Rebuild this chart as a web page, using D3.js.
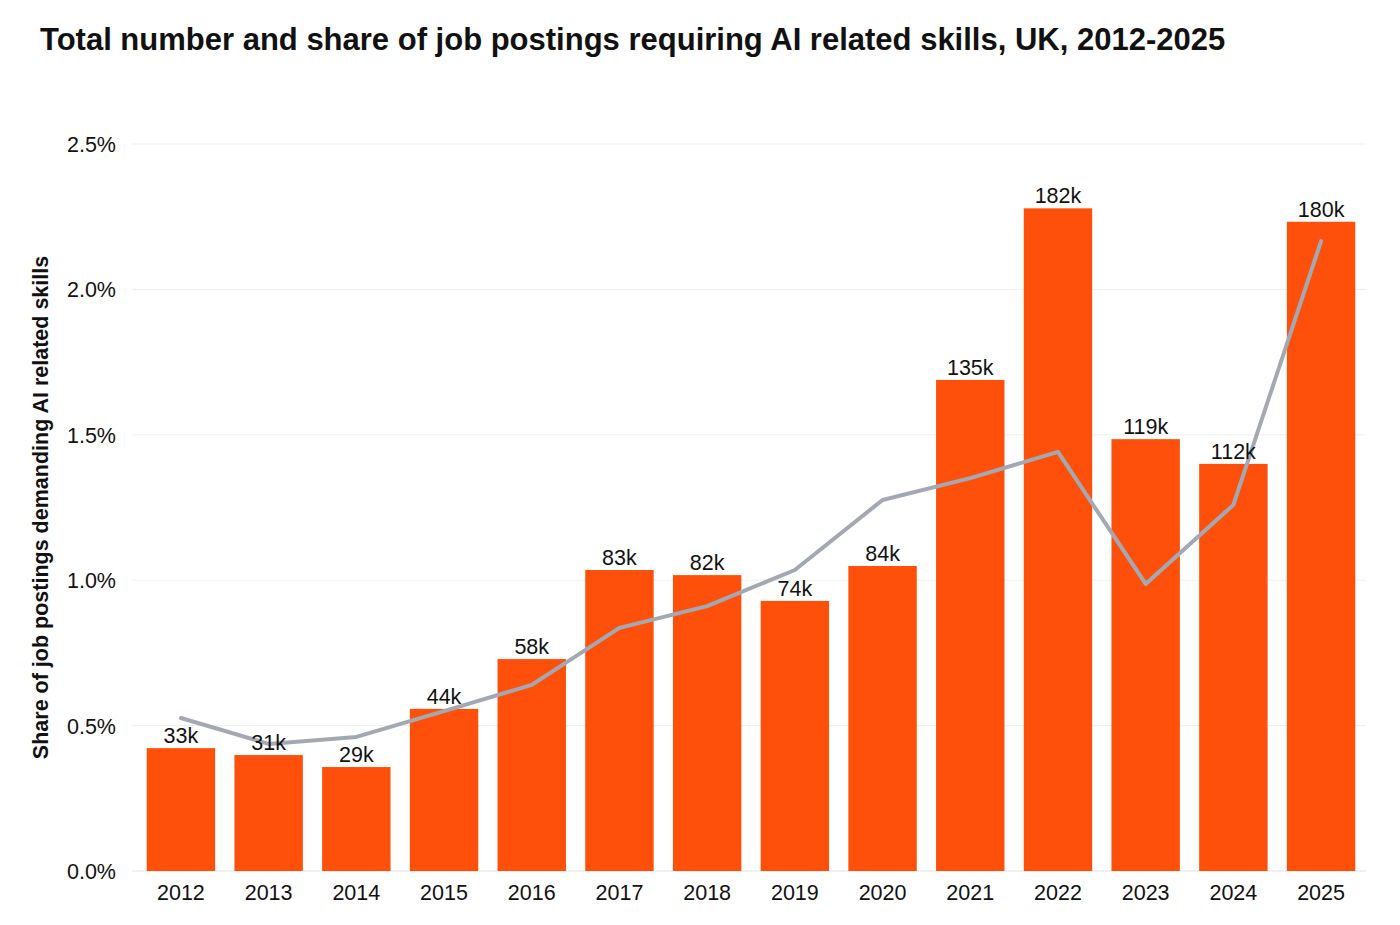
<!DOCTYPE html>
<html>
<head>
<meta charset="utf-8">
<script src="https://cdn.jsdelivr.net/npm/d3@7"></script>
<style>
  body { margin: 0; background: #fff; }
  text { font-family: "Liberation Sans", Arial, Helvetica, sans-serif; fill: #111; }
</style>
</head>
<body>
<svg></svg>
<script>
// data
const years = ["2012","2013","2014","2015","2016","2017","2018","2019","2020","2021","2022","2023","2024","2025"];
// postings requiring AI skills, thousands (bar height)
const postings = [33.8, 31.9, 28.6, 44.6, 58.3, 82.8, 81.4, 74.3, 83.9, 135.1, 182.3, 118.8, 112.0, 178.6];
const postingLabels = ["33k","31k","29k","44k","58k","83k","82k","74k","84k","135k","182k","119k","112k","180k"];
// share of postings, %
const share = [0.526, 0.437, 0.461, 0.55, 0.64, 0.836, 0.911, 1.035, 1.276, 1.351, 1.441, 0.987, 1.259, 2.166];
const yTicks = [0, 0.5, 1.0, 1.5, 2.0, 2.5];

const width = 1400,
  height = 925;

const svg = d3.select("svg").attr("width", width).attr("height", height);

const plotLeft = 134, plotRight = 1368, plotTop = 144, plotBottom = 871;

const x = d3.scaleBand().domain(years).range([plotLeft, plotRight]).paddingInner(0.22).paddingOuter(0.145);
const y = d3.scaleLinear().domain([0, 2.5]).range([plotBottom, plotTop]);
// bars use a hidden count axis, 0-200k on the same height
const yCount = d3.scaleLinear().domain([0, 200]).range([plotBottom, plotTop]);

// title
svg.append("text")
  .attr("x", 40).attr("y", 50)
  .style("font-size", "31px").style("font-weight", "bold")
  .text("Total number and share of job postings requiring AI related skills, UK, 2012-2025");

// grid + y labels
const grid = svg.append("g");
grid.selectAll("line").data(yTicks).enter().append("line")
  .attr("x1", plotLeft - 2).attr("x2", plotRight - 2)
  .attr("y1", d => y(d)).attr("y2", d => y(d))
  .attr("stroke", d => d === 0 ? "#e2e2e2" : "#efefef").attr("stroke-width", 1);
grid.selectAll("text").data(yTicks).enter().append("text")
  .attr("x", 116).attr("y", d => y(d) + 8)
  .attr("text-anchor", "end")
  .style("font-size", "21.5px")
  .text(d => d3.format(".1f")(d) + "%");

// y axis title
svg.append("text")
  .attr("transform", "translate(48," + (plotBottom + plotTop) / 2 + ") rotate(-90)")
  .attr("text-anchor", "middle")
  .style("font-size", "21.5px").style("font-weight", "bold")
  .text("Share of job postings demanding AI related skills");

// bars
svg.append("g").selectAll("rect").data(postings).enter().append("rect")
  .attr("x", (d, i) => x(years[i]))
  .attr("width", x.bandwidth())
  .attr("y", d => yCount(d))
  .attr("height", d => plotBottom - yCount(d))
  .attr("fill", "#fe500b");

// x labels
svg.append("g").selectAll("text").data(years).enter().append("text")
  .attr("x", d => x(d) + x.bandwidth() / 2)
  .attr("y", 900)
  .attr("text-anchor", "middle")
  .style("font-size", "21.5px")
  .text(d => d);

// share line
const line = d3.line()
  .x((d, i) => x(years[i]) + x.bandwidth() / 2)
  .y(d => y(d));

svg.append("path")
  .datum(share)
  .attr("d", line)
  .attr("fill", "none")
  .attr("stroke", "#a2a9b3")
  .attr("stroke-width", 4)
  .attr("stroke-linejoin", "round")
  .attr("stroke-linecap", "round");

// bar value labels
svg.append("g").selectAll("text").data(postings).enter().append("text")
  .attr("x", (d, i) => x(years[i]) + x.bandwidth() / 2)
  .attr("y", d => yCount(d) - 5)
  .attr("text-anchor", "middle")
  .style("font-size", "21.5px")
  .text((d, i) => postingLabels[i]);
</script>
</body>
</html>
